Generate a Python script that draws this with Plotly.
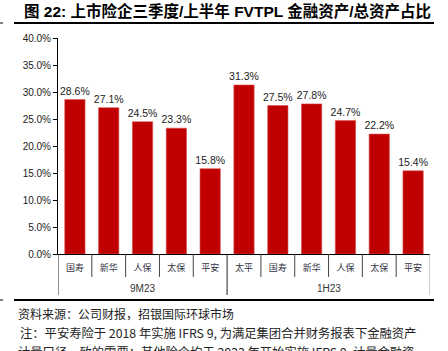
import plotly.graph_objects as go

groups = ["9M23"] * 5 + ["1H23"] * 6
companies = ["国寿", "新华", "人保", "太保", "平安", "太平", "国寿", "新华", "人保", "太保", "平安"]
values = [0.286, 0.271, 0.245, 0.233, 0.158, 0.313, 0.275, 0.278, 0.247, 0.222, 0.154]
group_names = ["9M23", "1H23"]
y_ticks = [0, 0.05, 0.10, 0.15, 0.20, 0.25, 0.30, 0.35, 0.40]

xs = list(range(len(values)))
NUM_FONT = "Arial, Liberation Sans, sans-serif"
CJK_FONT = "Noto Sans CJK SC, sans-serif"

fig = go.Figure()
fig.add_trace(go.Bar(
    x=xs, y=values, width=0.6,
    marker=dict(color="#C00000", line=dict(color="#d85050", width=0.6)),
    texttemplate="%{y:.1%}", textposition="outside", constraintext="none",
    textfont=dict(family=NUM_FONT, size=10.5, color="#222222"),
    cliponaxis=False,
))

W, H = 448, 351
L, R, T, B = 58, 18, 38, 97
ph = H - T - B
pw = W - L - R

def py(px):
    return (H - B - px) / ph

def pxp(px):
    return (px - L) / pw

shapes = []
# category dividers
for i in range(len(values) - 1):
    if groups[i] != groups[i + 1]:
        continue
    shapes.append(dict(type="line", xref="x", yref="paper", x0=i + 0.5, x1=i + 0.5,
                       y0=0, y1=py(277), line=dict(color="#444444", width=1)))
# group dividers
bounds = [-0.5] + [i + 0.5 for i in range(len(values) - 1) if groups[i] != groups[i + 1]] + [len(values) - 0.5]
for j, b in enumerate(bounds):
    col = "#999999" if j == len(bounds) - 1 else "#222222"
    shapes.append(dict(type="line", xref="x", yref="paper", x0=b, x1=b,
                       y0=0, y1=py(295), line=dict(color=col, width=1)))
# horizontal rules
for yy in (23, 300):
    shapes.append(dict(type="line", xref="paper", yref="paper", x0=pxp(14), x1=pxp(434),
                       y0=py(yy), y1=py(yy), line=dict(color="#000000", width=2)))
    shapes.append(dict(type="line", xref="paper", yref="paper", x0=pxp(0), x1=pxp(3),
                       y0=py(yy), y1=py(yy), line=dict(color="#000000", width=1)))

annotations = []
for g in group_names:
    idx = [i for i, gg in enumerate(groups) if gg == g]
    annotations.append(dict(x=(idx[0] + idx[-1]) / 2, y=py(288), xref="x", yref="paper",
                            text=g, showarrow=False, yanchor="middle",
                            font=dict(family=NUM_FONT, size=10, color="#333333")))

annotations.append(dict(x=pxp(22), y=py(11), xref="paper", yref="paper", xanchor="left",
                        yanchor="middle", showarrow=False,
                        text="<b>图 22: 上市险企三季度/上半年 FVTPL 金融资产/总资产占比</b>",
                        font=dict(family="Arial, Noto Sans CJK SC, sans-serif", size=15.5, color="#000000")))
annotations.append(dict(x=pxp(16), y=py(313), xref="paper", yref="paper", xanchor="left",
                        yanchor="middle", showarrow=False,
                        text="资料来源：公司财报，招银国际环球市场",
                        font=dict(family=CJK_FONT, size=12, color="#222222")))
annotations.append(dict(x=pxp(18), y=py(333), xref="paper", yref="paper", xanchor="left",
                        yanchor="middle", showarrow=False,
                        text="注：平安寿险于 2018 年实施 IFRS 9, 为满足集团合并财务报表下金融资产",
                        font=dict(family=CJK_FONT, size=12.3, color="#222222")))
annotations.append(dict(x=pxp(16), y=py(352), xref="paper", yref="paper", xanchor="left",
                        yanchor="middle", showarrow=False,
                        text="计量口径一致的需要；其他险企均于 2023 年开始实施 IFRS 9, 计量金融资",
                        font=dict(family=CJK_FONT, size=12.3, color="#222222")))

fig.update_layout(
    width=W, height=H,
    margin=dict(l=L, r=R, t=T, b=B),
    paper_bgcolor="white", plot_bgcolor="white",
    showlegend=False,
    shapes=shapes, annotations=annotations,
    xaxis=dict(range=[-0.5, len(values) - 0.5], tickvals=xs, ticktext=companies,
               showgrid=False, zeroline=False, showline=True, linecolor="#000000", linewidth=1,
               ticks="", ticklabelstandoff=5,
               tickfont=dict(family=CJK_FONT, size=9, color="#333344")),
    yaxis=dict(range=[0, 0.4], tickvals=y_ticks, tickformat=".1%",
               showgrid=False, zeroline=False, showline=True, linecolor="#000000", linewidth=1,
               ticks="outside", ticklen=4, tickcolor="#000000",
               tickfont=dict(family=NUM_FONT, size=10, color="#222222")),
)

fig.write_html("out.html")
